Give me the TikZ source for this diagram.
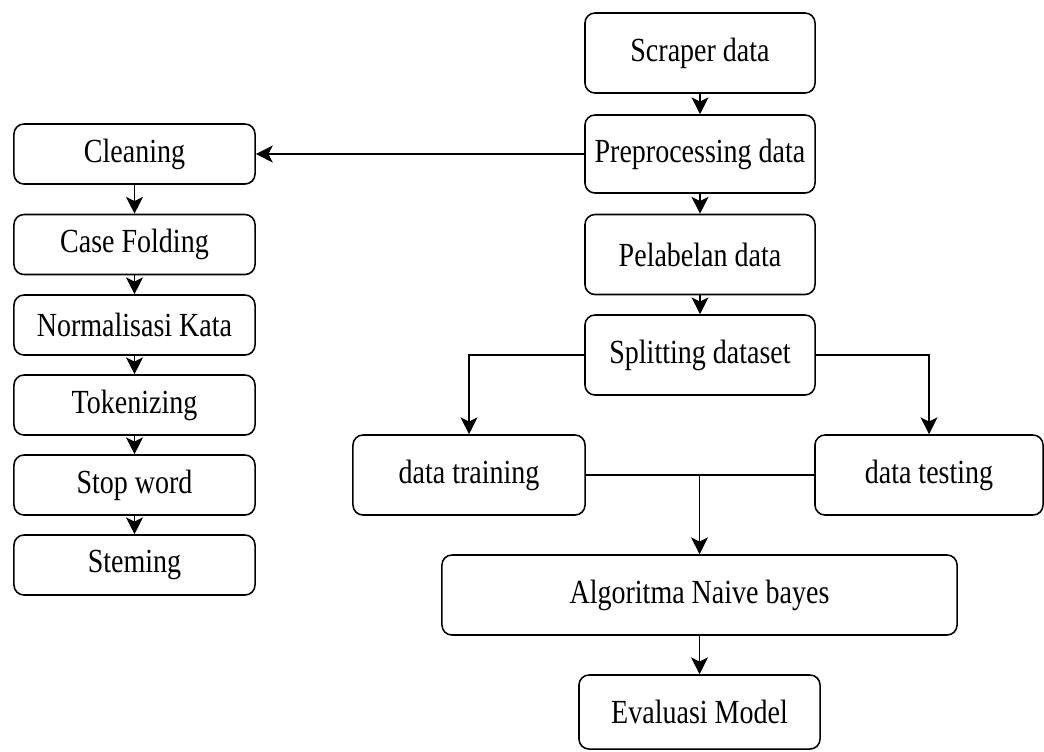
\documentclass[tikz,border=0pt]{standalone}
\usepackage{fontspec}
\setmainfont{Liberation Serif}[FakeStretch=0.83]
\usetikzlibrary{arrows.meta}
\begin{document}
\begin{tikzpicture}[x=0.025cm, y=-0.025cm,
    font=\fontsize{24pt}{28pt}\selectfont,
    box/.style={draw, rounded corners=0.25cm, line width=1.1pt, minimum width=5.75cm, minimum height=2cm, inner sep=0pt},
    prepbox/.style={draw, rounded corners=0.25cm, line width=1.1pt, minimum width=6.025cm, minimum height=1.5cm, inner sep=0pt},
    flow/.style={line width=1pt, -{Stealth[length=12pt, width=12pt, inset=3pt]}}]
      \useasboundingbox (0,0) rectangle (1044,751);

      % main flow
      \node[box] (scraper) at (700, 53) {Scraper data};
      \node[box, minimum height=1.95cm] (prep) at (700, 154) {Preprocessing data};
      \node[box] (label) at (700, 254.5) {Pelabelan data};
      \node[box] (split) at (700, 355) {Splitting dataset};
      \node[box, minimum width=5.8cm] (train) at (469, 475) {data training};
      \node[box, minimum width=5.7cm] (test) at (929, 475) {data testing};
      \node[box, minimum width=12.875cm] (algo) at (699.5, 595) {Algoritma Naive bayes};
      \node[box, minimum width=6.025cm, minimum height=1.85cm] (eval) at (699.5, 712) {Evaluasi Model};

      % preprocessing steps
      \node[prepbox] (clean) at (134.5, 154) {Cleaning};
      \node[prepbox] (fold) at (134.5, 244.5) {Case Folding};
      \node[prepbox] (norm) at (134.5, 325) {Normalisasi Kata};
      \node[prepbox] (token) at (134.5, 405) {Tokenizing};
      \node[prepbox] (stop) at (134.5, 485) {Stop word};
      \node[prepbox] (stem) at (134.5, 565) {Steming};

      \draw[flow] (scraper) -- (prep);
      \draw[flow] (prep) -- (label);
      \draw[flow] (label) -- (split);
      \draw[flow] (prep) -- (clean);

      \draw[flow] (clean) -- (fold);
      \draw[flow] (fold) -- (norm);
      \draw[flow] (norm) -- (token);
      \draw[flow] (token) -- (stop);
      \draw[flow] (stop) -- (stem);

      \draw[flow] (split.west) -| (train.north);
      \draw[flow] (split.east) -| (test.north);

      \coordinate (join) at (train.east -| algo.north);
      \draw[line width=1pt] (train.east) -- (test.west);
      \draw[flow] (join) -- (algo.north);
      \draw[flow] (algo) -- (eval);
    \end{tikzpicture}
\end{document}
